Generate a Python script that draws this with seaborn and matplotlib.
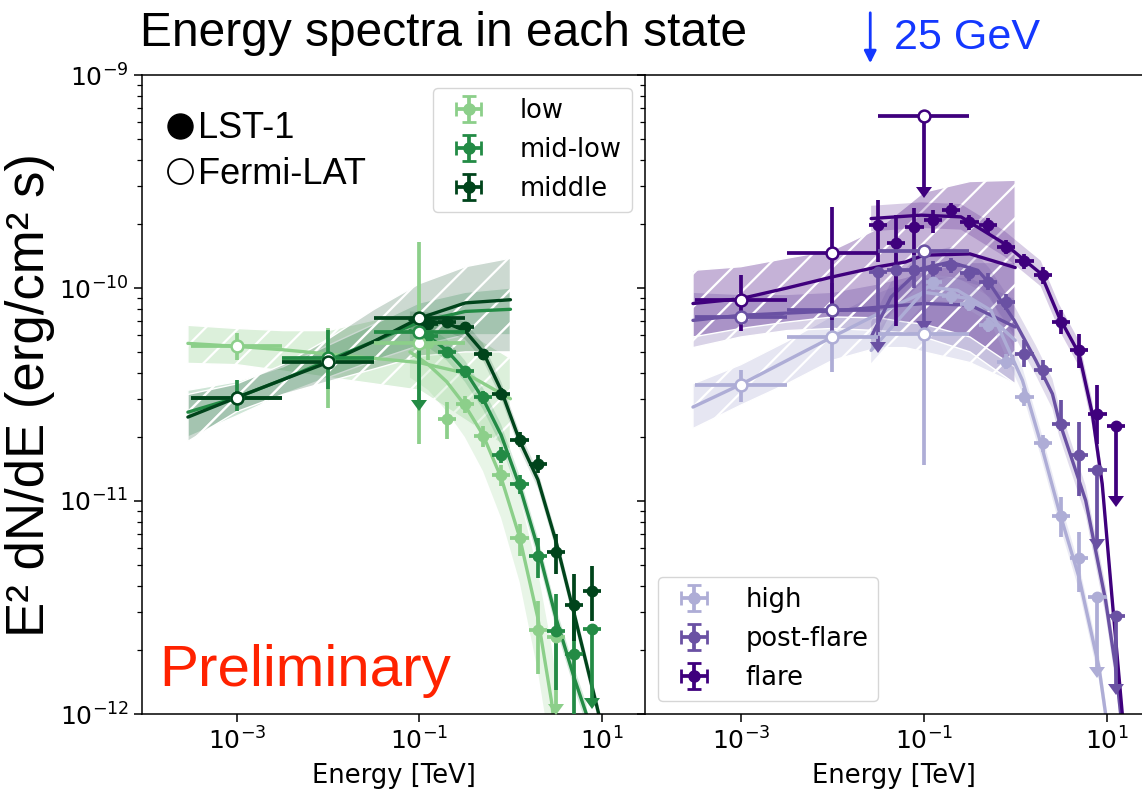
import numpy as np
import matplotlib
matplotlib.use("Agg")
import matplotlib.pyplot as plt
import seaborn as sns
from matplotlib.lines import Line2D
from matplotlib.colors import to_rgba

# ---------------- colours of the states
c_low, c_midlow, c_middle = "#8ccf8a", "#238b45", "#00441b"
c_high, c_post, c_flare = "#aeadd6", "#6a51a3", "#3f007d"

# ---------------- Fermi-LAT points (flux in 1e-11 erg/cm2/s), bins one decade wide
fermi_e = [1e-3, 1e-2, 1e-1]
fermi_e_lo = [3.16e-4, 3.16e-3, 3.16e-2]
fermi_e_hi = [3.16e-3, 3.16e-2, 3.16e-1]

low_fermi = [5.32, 4.6, 5.5]
low_fermi_lo = [4.57, 2.72, 1.86]
low_fermi_hi = [6.12, 6.5, 16.4]
low_fermi_ul = [0, 0, 0]
midlow_fermi = [3.06, 4.7, 6.2]
midlow_fermi_lo = [2.66, 3.37, 2.97]
midlow_fermi_hi = [3.68, 6.37, 6.2]
midlow_fermi_ul = [0, 0, 1]
middle_fermi = [3.06, 4.5, 7.2]
middle_fermi_lo = [2.85, 4.2, 6.8]
middle_fermi_hi = [3.3, 4.8, 7.6]
middle_fermi_ul = [0, 0, 0]

high_fermi = [3.52, 5.89, 6.1]
high_fermi_lo = [2.91, 4.03, 1.47]
high_fermi_hi = [4.1, 7.9, 10.0]
high_fermi_ul = [0, 0, 0]
post_fermi = [7.3, 7.85, 14.9]
post_fermi_lo = [6.8, 5.9, 7.0]
post_fermi_hi = [7.8, 10.5, 14.9]
post_fermi_ul = [0, 0, 1]
flare_fermi = [8.8, 14.6, 64.0]
flare_fermi_lo = [6.3, 7.1, 29.7]
flare_fermi_hi = [11.5, 24.0, 64.0]
flare_fermi_ul = [0, 0, 1]

# ---------------- LST-1 points (flux in 1e-11 erg/cm2/s), bins 0.2 decade wide
low_lst_e = [0.126, 0.2, 0.316, 0.5, 0.79, 1.26, 2.0, 3.16]
low_lst = [5.5, 2.43, 2.86, 2.03, 1.32, 0.671, 0.248, 0.229]
low_lst_lo = [4.6, 1.96, 2.6, 1.8, 1.17, 0.553, 0.154, 0.111]
low_lst_hi = [5.9, 2.91, 3.1, 2.25, 1.48, 0.783, 0.34, 0.229]
low_lst_ul = [0, 0, 0, 0, 0, 0, 0, 1]

midlow_lst_e = [0.126, 0.2, 0.316, 0.5, 0.79, 1.26, 2.0, 3.16, 5.0, 7.9]
midlow_lst = [5.93, 5.0, 4.07, 3.08, 1.65, 1.20, 0.553, 0.246, 0.192, 0.251]
midlow_lst_lo = [5.6, 4.7, 3.8, 2.85, 1.5, 1.08, 0.437, 0.129, 0.1, 0.119]
midlow_lst_hi = [6.3, 5.3, 4.3, 3.3, 1.8, 1.32, 0.673, 0.367, 0.34, 0.251]
midlow_lst_ul = [0, 0, 0, 0, 0, 0, 0, 0, 0, 1]

middle_lst_e = [0.126, 0.2, 0.316, 0.5, 0.79, 1.26, 2.0, 3.16, 5.0, 7.9]
middle_lst = [6.81, 6.89, 6.56, 4.88, 3.18, 1.94, 1.49, 0.578, 0.324, 0.380]
middle_lst_lo = [6.5, 6.6, 6.25, 4.6, 2.98, 1.8, 1.35, 0.456, 0.221, 0.274]
middle_lst_hi = [7.15, 7.2, 6.9, 5.15, 3.4, 2.1, 1.65, 0.703, 0.456, 0.497]
middle_lst_ul = [0] * 10

high_lst_e = [0.126, 0.2, 0.316, 0.5, 0.79, 1.26, 2.0, 3.16, 5.0, 7.9]
high_lst = [10.7, 9.2, 8.45, 6.7, 4.5, 3.08, 1.87, 0.853, 0.54, 0.356]
high_lst_lo = [9.8, 8.4, 7.8, 6.2, 4.15, 2.8, 1.7, 0.675, 0.372, 0.166]
high_lst_hi = [11.6, 10.0, 9.1, 7.2, 4.9, 3.38, 2.05, 1.04, 0.713, 0.356]
high_lst_ul = [0, 0, 0, 0, 0, 0, 0, 0, 0, 1]

post_lst_e = [0.0316, 0.05, 0.079, 0.126, 0.2, 0.316, 0.5, 0.79, 1.26, 2.0, 3.16, 5.0, 7.9, 12.6]
post_lst = [11.9, 12.1, 12.2, 12.3, 12.8, 11.7, 10.7, 8.6, 4.9, 4.1, 2.31, 1.65, 1.40, 0.289]
post_lst_lo = [5.6, 9.5, 10.0, 11.3, 11.8, 10.8, 9.8, 7.9, 4.25, 3.68, 2.14, 1.06, 0.66, 0.138]
post_lst_hi = [11.9, 14.5, 14.8, 13.4, 13.9, 12.7, 11.7, 9.4, 5.7, 4.57, 2.97, 2.34, 1.40, 0.289]
post_lst_ul = [1, 0, 0, 0, 0, 0, 0, 0, 0, 0, 0, 0, 1, 1]

flare_lst_e = [0.0316, 0.05, 0.079, 0.126, 0.2, 0.316, 0.5, 0.79, 1.26, 2.0, 3.16, 5.0, 7.9, 12.6]
flare_lst = [19.7, 16.2, 19.4, 20.8, 23.2, 20.4, 19.7, 15.6, 13.4, 11.5, 6.9, 5.1, 2.57, 2.26]
flare_lst_lo = [13.2, 6.6, 14.3, 18.1, 21.5, 18.8, 18.2, 14.4, 12.3, 10.4, 6.1, 4.2, 1.86, 1.06]
flare_lst_hi = [25.8, 22.0, 23.7, 23.2, 25.0, 22.0, 21.2, 16.8, 14.5, 12.6, 7.85, 6.1, 3.5, 2.26]
flare_lst_ul = [0] * 13 + [1]

# ---------------- Fermi-LAT fits (log10 of flux) and their bands
fit_e_left = [2.9e-4, 1e-3, 3.2e-3, 1e-2, 3.2e-2, 0.1, 0.32, 1.0]
low_fit = [-10.26, -10.274, -10.29, -10.31, -10.33, -10.35, -10.40, -10.52]
low_fit_hi = [-10.175, -10.19, -10.2, -10.2, -10.15, -10.12, -10.2, -10.33]
low_fit_lo = [-10.354, -10.36, -10.39, -10.42, -10.45, -10.48, -10.62, -10.76]
midlow_fit = [-10.583, -10.514, -10.43, -10.34, -10.25, -10.16, -10.11, -10.10]
midlow_fit_hi = [-10.48, -10.44, -10.37, -10.27, -10.17, -10.07, -10.02, -10.0]
midlow_fit_lo = [-10.70, -10.6, -10.50, -10.42, -10.34, -10.27, -10.22, -10.22]
middle_fit = [-10.606, -10.514, -10.43, -10.349, -10.25, -10.142, -10.07, -10.055]
middle_fit_hi = [-10.50, -10.45, -10.36, -10.24, -10.10, -9.98, -9.90, -9.86]
middle_fit_lo = [-10.72, -10.58, -10.50, -10.44, -10.38, -10.32, -10.30, -10.30]

fit_e_right = [3e-4, 1e-3, 3.2e-3, 1e-2, 3.2e-2, 6.3e-2, 0.1, 0.32, 1.0]
high_fit = [-10.559, -10.453, -10.34, -10.23, -10.12, -10.06, -10.02, -10.05, -10.246]
high_fit_hi = [-10.45, -10.36, -10.25, -10.13, -10.02, -9.97, -9.95, -9.95, -10.05]
high_fit_lo = [-10.66, -10.55, -10.45, -10.34, -10.28, -10.28, -10.3, -10.35, -10.45]
post_fit = [-10.152, -10.128, -10.118, -10.108, -10.09, -10.08, -10.073, -10.08, -10.183]
post_fit_hi = [-10.02, -10.03, -10.03, -10.02, -9.98, -9.95, -9.92, -9.88, -9.88]
post_fit_lo = [-10.28, -10.23, -10.2, -10.19, -10.2, -10.21, -10.23, -10.3, -10.45]
flare_fit = [-10.073, -10.05, -10.0, -9.948, -9.9, -9.878, -9.846, -9.84, -9.904]
flare_fit_hi = [-9.917, -9.90, -9.86, -9.823, -9.72, -9.62, -9.55, -9.50, -9.494]
flare_fit_lo = [-10.23, -10.19, -10.16, -10.136, -10.14, -10.16, -10.17, -10.23, -10.372]

# ---------------- LST-1 fits (log10 of flux) and their bands
low_mod_e = [0.079, 0.126, 0.2, 0.316, 0.5, 0.79, 1.26, 2.0, 2.82, 3.31]
low_mod = [-10.30, -10.36, -10.44, -10.55, -10.69, -10.89, -11.17, -11.55, -11.94, -12.2]
low_mod_hi = [-10.18, -10.24, -10.31, -10.41, -10.54, -10.72, -10.98, -11.33, -11.68, -11.9]
low_mod_lo = [-10.42, -10.48, -10.58, -10.70, -10.86, -11.08, -11.38, -11.8, -12.2, -12.5]
midlow_mod_e = [0.079, 0.126, 0.2, 0.316, 0.5, 0.79, 1.26, 2.0, 3.16, 5.0, 6.8, 7.6]
midlow_mod = [-10.2, -10.227, -10.293, -10.387, -10.52, -10.69, -10.93, -11.22, -11.55, -11.83, -12.0, -12.2]
midlow_mod_hi = [-10.15, -10.18, -10.24, -10.34, -10.47, -10.64, -10.88, -11.17, -11.5, -11.78, -11.95, -12.15]
midlow_mod_lo = [-10.25, -10.28, -10.34, -10.44, -10.57, -10.74, -10.98, -11.27, -11.6, -11.88, -12.05, -12.25]
middle_mod_e = [0.079, 0.126, 0.2, 0.316, 0.5, 0.79, 1.26, 2.0, 3.16, 5.0, 9.3, 10.5]
middle_mod = [-10.15, -10.155, -10.165, -10.2, -10.3, -10.48, -10.716, -10.90, -11.19, -11.53, -12.0, -12.2]
middle_mod_hi = [-10.11, -10.115, -10.125, -10.16, -10.26, -10.44, -10.676, -10.86, -11.15, -11.49, -11.96, -12.16]
middle_mod_lo = [-10.19, -10.195, -10.205, -10.24, -10.34, -10.52, -10.756, -10.94, -11.23, -11.57, -12.04, -12.24]

high_mod_e = [0.0266, 0.11, 0.234, 0.542, 1.2, 1.9, 3.01, 4.98, 8.22, 9.73, 10.8]
high_mod = [-10.293, -9.995, -10.011, -10.105, -10.434, -10.728, -11.045, -11.359, -11.78, -12.0, -12.2]
high_mod_hi = [-10.23, -9.935, -9.951, -10.045, -10.374, -10.668, -10.985, -11.299, -11.72, -11.94, -12.14]
high_mod_lo = [-10.353, -10.055, -10.071, -10.165, -10.494, -10.788, -11.105, -11.419, -11.84, -12.06, -12.26]
post_mod_e = [0.0266, 0.044, 0.0933, 0.195, 0.389, 0.525, 0.973, 1.68, 2.55, 3.01, 5.89, 9.73, 12.5, 14.2, 15.5]
post_mod = [-10.23, -10.042, -9.909, -9.878, -9.917, -9.979, -10.152, -10.34, -10.497, -10.622, -10.998, -11.468, -11.78, -12.0, -12.2]
post_mod_hi = [-10.16, -9.972, -9.839, -9.808, -9.847, -9.909, -10.082, -10.27, -10.427, -10.552, -10.928, -11.398, -11.71, -11.93, -12.13]
post_mod_lo = [-10.30, -10.112, -9.979, -9.948, -9.987, -10.049, -10.222, -10.41, -10.567, -10.692, -11.068, -11.538, -11.85, -12.07, -12.27]
flare_mod_e = [0.0266, 0.0933, 0.255, 0.757, 1.9, 3.01, 4.98, 6.95, 8.93, 11.5, 14.8, 16.5]
flare_mod = [-9.674, -9.658, -9.666, -9.791, -9.932, -10.136, -10.308, -10.59, -10.92, -11.468, -12.0, -12.3]
flare_mod_hi = [-9.614, -9.598, -9.606, -9.731, -9.872, -10.076, -10.248, -10.53, -10.86, -11.408, -11.94, -12.24]
flare_mod_lo = [-9.734, -9.718, -9.726, -9.851, -9.992, -10.196, -10.368, -10.65, -10.98, -11.528, -12.06, -12.36]

# ---------------- style
sns.set_theme(style="ticks", rc={"axes.edgecolor": "black", "xtick.color": "black",
                                 "ytick.color": "black", "axes.linewidth": 1.1,
                                 "text.color": "black", "axes.labelcolor": "black"})
plt.rcParams["font.family"] = ["DejaVu Sans"]
plt.rcParams["hatch.linewidth"] = 1.6
helv = "Liberation Sans"

fig = plt.figure(figsize=(11.42, 7.91), dpi=100)
ax1 = fig.add_axes([142 / 1142, 1 - 714 / 791, 503 / 1142, 639 / 791])
ax2 = fig.add_axes([645 / 1142, 1 - 714 / 791, 497 / 1142, 639 / 791], sharey=ax1)
for ax in (ax1, ax2):
    ax.set_xscale("log")
    ax.set_yscale("log")
ax1.set_xlim(9.1e-5, 29.9)
ax2.set_xlim(8.97e-5, 24.3)
ax1.set_ylim(1e-12, 1e-9)


def fermi_band(ax, e, lo, hi, c, a=0.27):
    ax.fill_between(e, 10.0 ** np.array(lo), 10.0 ** np.array(hi), facecolor=to_rgba(c, a),
                    edgecolor="white", hatch="/", lw=1.0, zorder=1)


def lst_band(ax, e, lo, hi, c, a):
    ax.fill_between(e, 10.0 ** np.array(lo), 10.0 ** np.array(hi), facecolor=to_rgba(c, a),
                    edgecolor="none", zorder=1)


def curve(ax, e, ly, c):
    sns.lineplot(x=e, y=10.0 ** np.array(ly), ax=ax, color=c, lw=2.4, estimator=None,
                 sort=False, legend=False, zorder=2)


def points(ax, e, f, lo, hi, ul, c, e_lo=None, e_hi=None, fermi=False):
    e = np.array(e)
    f = np.array(f) * 1e-11
    lo = np.array(lo) * 1e-11
    hi = np.array(hi) * 1e-11
    if e_lo is None:
        xerr = [e * (1 - 10 ** -0.1), e * (10 ** 0.1 - 1)]
    else:
        xerr = [e - np.array(e_lo), np.array(e_hi) - e]
    kw = dict(mfc="white", mec=c, mew=1.8, ms=8.5, zorder=5) if fermi else dict(ms=7.5, zorder=4)
    eb = ax.errorbar(e, f, xerr=xerr, yerr=[f - lo, hi - f], uplims=np.array(ul, bool),
                     fmt="o", color=c, elinewidth=2.7, capsize=0, **kw)
    # arrow heads of the upper limits a bit larger
    for cl in eb.lines[1]:
        cl.set_markersize(11)
        cl.set_markeredgewidth(0)


# ---------------- left panel
fermi_band(ax1, fit_e_left, low_fit_lo, low_fit_hi, c_low, 0.3)
fermi_band(ax1, fit_e_left, midlow_fit_lo, midlow_fit_hi, c_midlow, 0.22)
fermi_band(ax1, fit_e_left, middle_fit_lo, middle_fit_hi, c_middle, 0.2)
lst_band(ax1, low_mod_e, low_mod_lo, low_mod_hi, c_low, 0.2)
lst_band(ax1, midlow_mod_e, midlow_mod_lo, midlow_mod_hi, c_midlow, 0.18)
lst_band(ax1, middle_mod_e, middle_mod_lo, middle_mod_hi, c_middle, 0.15)
for e, ly, c in [(fit_e_left, low_fit, c_low), (fit_e_left, midlow_fit, c_midlow),
                 (fit_e_left, middle_fit, c_middle), (low_mod_e, low_mod, c_low),
                 (midlow_mod_e, midlow_mod, c_midlow), (middle_mod_e, middle_mod, c_middle)]:
    curve(ax1, e, ly, c)
points(ax1, low_lst_e, low_lst, low_lst_lo, low_lst_hi, low_lst_ul, c_low)
points(ax1, midlow_lst_e, midlow_lst, midlow_lst_lo, midlow_lst_hi, midlow_lst_ul, c_midlow)
points(ax1, middle_lst_e, middle_lst, middle_lst_lo, middle_lst_hi, middle_lst_ul, c_middle)
points(ax1, fermi_e, low_fermi, low_fermi_lo, low_fermi_hi, low_fermi_ul, c_low, fermi_e_lo, fermi_e_hi, True)
points(ax1, fermi_e, midlow_fermi, midlow_fermi_lo, midlow_fermi_hi, midlow_fermi_ul, c_midlow, fermi_e_lo, fermi_e_hi, True)
points(ax1, fermi_e, middle_fermi, middle_fermi_lo, middle_fermi_hi, middle_fermi_ul, c_middle, fermi_e_lo, fermi_e_hi, True)

# ---------------- right panel
fermi_band(ax2, fit_e_right, high_fit_lo, high_fit_hi, c_high, 0.3)
fermi_band(ax2, fit_e_right, post_fit_lo, post_fit_hi, c_post, 0.25)
fermi_band(ax2, fit_e_right, flare_fit_lo, flare_fit_hi, c_flare, 0.3)
lst_band(ax2, high_mod_e, high_mod_lo, high_mod_hi, c_high, 0.25)
lst_band(ax2, post_mod_e, post_mod_lo, post_mod_hi, c_post, 0.2)
lst_band(ax2, flare_mod_e, flare_mod_lo, flare_mod_hi, c_flare, 0.2)
for e, ly, c in [(fit_e_right, high_fit, c_high), (fit_e_right, post_fit, c_post),
                 (fit_e_right, flare_fit, c_flare), (high_mod_e, high_mod, c_high),
                 (post_mod_e, post_mod, c_post), (flare_mod_e, flare_mod, c_flare)]:
    curve(ax2, e, ly, c)
points(ax2, high_lst_e, high_lst, high_lst_lo, high_lst_hi, high_lst_ul, c_high)
points(ax2, post_lst_e, post_lst, post_lst_lo, post_lst_hi, post_lst_ul, c_post)
points(ax2, flare_lst_e, flare_lst, flare_lst_lo, flare_lst_hi, flare_lst_ul, c_flare)
points(ax2, fermi_e, high_fermi, high_fermi_lo, high_fermi_hi, high_fermi_ul, c_high, fermi_e_lo, fermi_e_hi, True)
points(ax2, fermi_e, post_fermi, post_fermi_lo, post_fermi_hi, post_fermi_ul, c_post, fermi_e_lo, fermi_e_hi, True)
points(ax2, fermi_e, flare_fermi, flare_fermi_lo, flare_fermi_hi, flare_fermi_ul, c_flare, fermi_e_lo, fermi_e_hi, True)

# ---------------- axes cosmetics
for ax in (ax1, ax2):
    ax.set_xticks([1e-3, 1e-1, 1e1])
    ax.xaxis.set_minor_locator(matplotlib.ticker.NullLocator())
    ax.tick_params(axis="both", which="major", labelsize=18, length=6, width=1.1, direction="out")
    ax.tick_params(axis="y", which="minor", length=3.5, width=0.9, direction="out")
    ax.set_xlabel("Energy [TeV]", fontsize=18.5, labelpad=6)
ax2.tick_params(axis="y", labelleft=False)
ax1.spines["right"].set_visible(False)
ax2.spines["right"].set_visible(False)


# ---------------- legends
def state_handle(ax, c, label):
    return ax.errorbar([np.nan], [np.nan], xerr=[1], yerr=[1], fmt="o", color=c, ms=8,
                       elinewidth=2.7, capsize=5, capthick=2, label=label)


h_left = [state_handle(ax1, c, l) for c, l in [(c_low, "low"), (c_midlow, "mid-low"), (c_middle, "middle")]]
h_right = [state_handle(ax2, c, l) for c, l in [(c_high, "high"), (c_post, "post-flare"), (c_flare, "flare")]]

inst = [Line2D([], [], ls="none", marker="o", ms=18, mfc="black", mec="black"),
        Line2D([], [], ls="none", marker="o", ms=18, mfc="white", mec="black", mew=1.3)]
leg0 = ax1.legend(inst, ["LST-1", "Fermi-LAT"], loc="upper left", bbox_to_anchor=(0.014, 0.977),
                  frameon=False, prop={"family": helv, "size": 26}, handlelength=0.5,
                  handletextpad=0.25, labelspacing=0.29, borderaxespad=0.4, borderpad=0.2)
ax1.add_artist(leg0)
leg_kw = dict(fontsize=18.5, framealpha=0.8, edgecolor="#cccccc", labelspacing=0.5,
              handlelength=2.0, handletextpad=1.0)
ax1.legend(handles=h_left, loc="upper right", **leg_kw)
ax2.legend(handles=h_right, loc="lower left", **leg_kw)

# ---------------- texts
fig.text(140 / 1142, 1 - 34 / 791, "Energy spectra in each state", family=helv, fontsize=34.5,
         va="center", ha="left")
fig.text(894 / 1142, 1 - 38 / 791, "25 GeV", family=helv, fontsize=31, color="#1438ff",
         va="center", ha="left")
ax2.annotate("", xy=(0.026, 1 - 66 / 791), xytext=(0.026, 1 - 10 / 791),
             xycoords=("data", "figure fraction"), textcoords=("data", "figure fraction"),
             arrowprops=dict(arrowstyle="-|>", color="#1438ff", lw=2, mutation_scale=18),
             annotation_clip=False)
fig.text(30 / 1142, 1 - 395 / 791, "E² dN/dE (erg/cm² s)", family=helv, fontsize=38,
         rotation=90, va="center", ha="center")
ax1.text(0.035, 0.025, "Preliminary", transform=ax1.transAxes, family=helv, fontsize=42,
         color="#ff2200", ha="left", va="bottom")

fig.savefig("out.png", dpi=100)
